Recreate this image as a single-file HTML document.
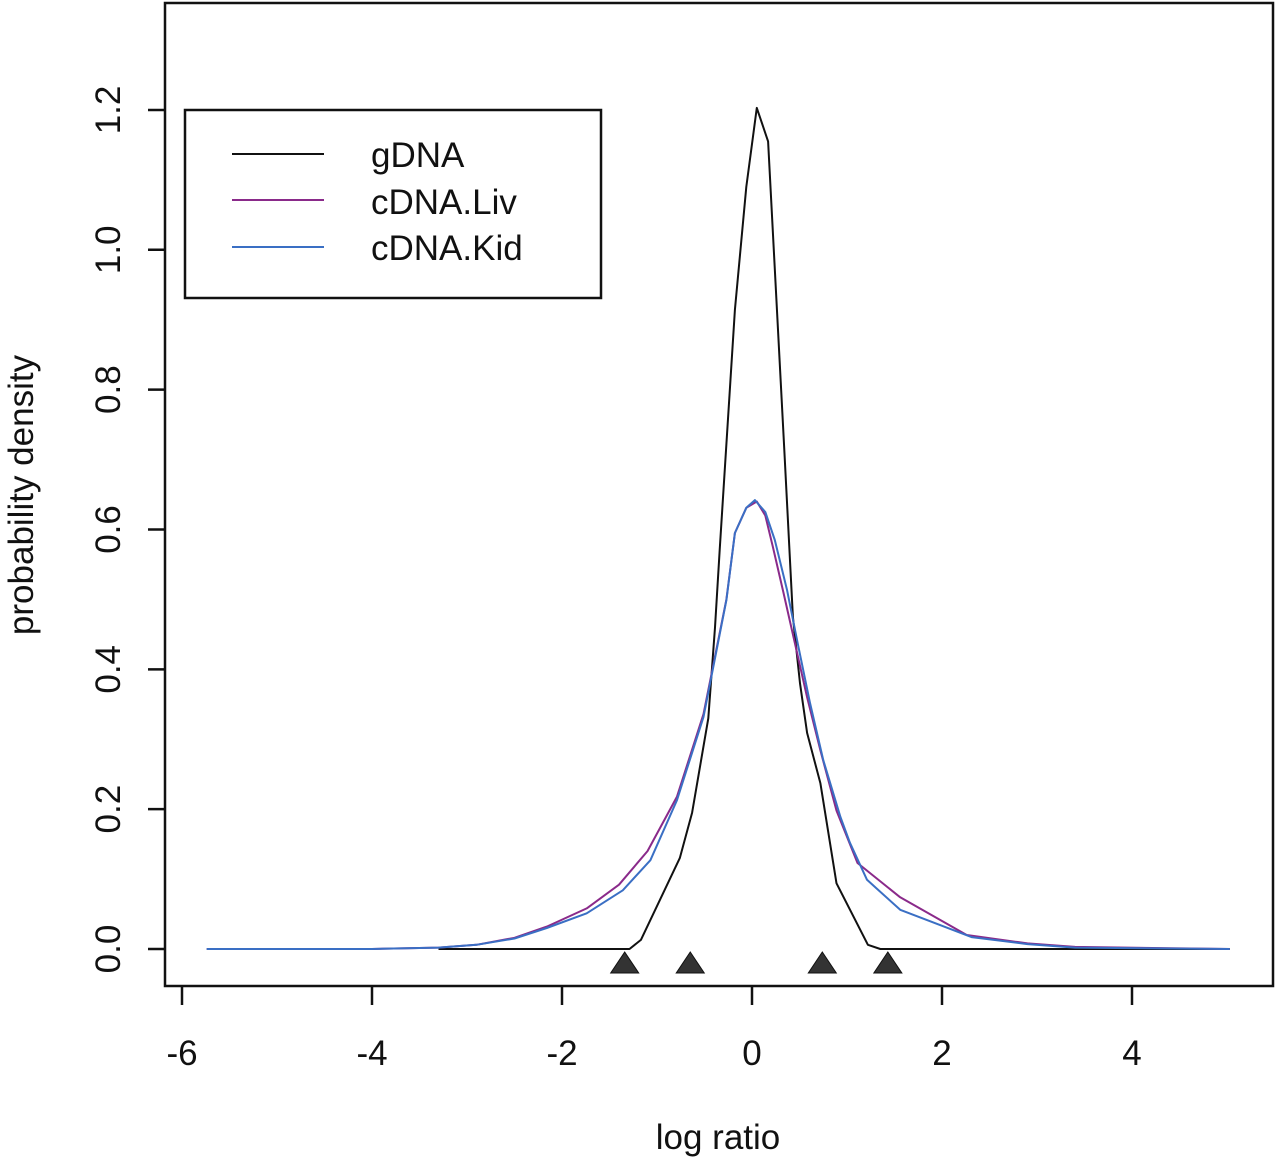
<!DOCTYPE html>
<html><head><meta charset="utf-8"><style>
html,body{margin:0;padding:0;background:#fff;}
svg{display:block;}
text{font-family:"Liberation Sans",sans-serif;fill:#111;}
</style></head><body>
<svg id="chart" width="1280" height="1161" viewBox="0 0 1280 1161">
<rect x="165" y="3" width="1108" height="983" fill="none" stroke="#111" stroke-width="2.5"/>
<g id="axes"></g>
<g id="series"></g>
<g id="markers"></g>
<text x="33" y="495" font-size="35" text-anchor="middle" transform="rotate(-90 33 495)">probability density</text>
<text x="718" y="1149" font-size="35" text-anchor="middle">log ratio</text>
<g>
<rect x="185" y="110" width="416" height="188" fill="#fff" stroke="#111" stroke-width="2.5"/>
<line x1="232" y1="154" x2="324" y2="154" stroke="#111" stroke-width="2"/>
<line x1="232" y1="200" x2="324" y2="200" stroke="#8a2a8a" stroke-width="2"/>
<line x1="232" y1="247" x2="324" y2="247" stroke="#3a6fc4" stroke-width="2"/>
<text x="371" y="167" font-size="35">gDNA</text>
<text x="371" y="214" font-size="35">cDNA.Liv</text>
<text x="371" y="260" font-size="35">cDNA.Kid</text>
</g>
</svg>
<script>
const xTicks=[-6,-4,-2,0,2,4];
const yTicks=[0,0.2,0.4,0.6,0.8,1.0,1.2];
const yTickLabels=["0.0","0.2","0.4","0.6","0.8","1.0","1.2"];
const gdnaX=[-3.3,-1.29,-1.17,-0.76,-0.63,-0.46,-0.39,-0.34,-0.18,-0.06,0.05,0.17,0.34,0.43,0.505,0.58,0.72,0.89,1.22,1.35,5.03];
const gdnaY=[0,0,0.013,0.13,0.195,0.33,0.46,0.571,0.914,1.09,1.203,1.155,0.714,0.475,0.38,0.309,0.237,0.094,0.006,0,0];
const kidX=[-5.74,-4,-3.3,-2.9,-2.5,-2.16,-1.74,-1.36,-1.07,-0.79,-0.51,-0.27,-0.18,-0.06,0.03,0.14,0.24,0.37,0.48,0.61,0.75,0.93,1.03,1.21,1.56,2.31,2.9,3.4,5.03];
const kidY=[0,0,0.002,0.006,0.015,0.03,0.051,0.084,0.127,0.213,0.332,0.499,0.595,0.631,0.642,0.625,0.585,0.513,0.438,0.352,0.27,0.189,0.152,0.099,0.056,0.017,0.007,0.002,0];
const livX=[-5.74,-4,-3.3,-2.9,-2.5,-2.16,-1.74,-1.4,-1.1,-0.79,-0.51,-0.27,-0.18,-0.06,0.05,0.14,0.22,0.33,0.45,0.58,0.72,0.89,1.11,1.56,2.26,2.9,3.4,5.03];
const livY=[0,0,0.002,0.006,0.016,0.032,0.058,0.092,0.14,0.218,0.336,0.5,0.595,0.631,0.64,0.62,0.575,0.51,0.438,0.36,0.284,0.198,0.123,0.074,0.02,0.008,0.003,0];
const markerX=[-1.34,-0.65,0.74,1.43];

const X=v=>752+v*95;
const Y=v=>949-v*699.2;
const NS="http://www.w3.org/2000/svg";
function mk(tag,attrs,parent){const e=document.createElementNS(NS,tag);for(const k in attrs)e.setAttribute(k,attrs[k]);parent.appendChild(e);return e;}
const axes=document.getElementById('axes');
xTicks.forEach(t=>{
  const l=mk('line',{x1:X(t),x2:X(t),y1:986,y2:1005,stroke:'#111','stroke-width':2.5},axes);
  
  
  const tx=mk('text',{x:X(t),y:1065,'font-size':35,'text-anchor':'middle'},axes);
  tx.textContent=String(t);
  
  
});
yTicks.forEach((t,i)=>{
  const l=mk('line',{x1:148,x2:165,y1:Y(t),y2:Y(t),stroke:'#111','stroke-width':2.5},axes);
  
  
  const tx=mk('text',{x:120,y:Y(t),'font-size':35,'text-anchor':'middle',transform:`rotate(-90 120 ${Y(t)})`},axes);
  tx.textContent=yTickLabels[i];
  
  
});
const series=document.getElementById('series');
function line(xs,ys,color,name){
  const d=xs.map((x,i)=>(i?'L':'M')+X(x).toFixed(1)+','+Y(ys[i]).toFixed(1)).join(' ');
  const p=mk('path',{d:d,fill:'none',stroke:color,'stroke-width':2,'stroke-linejoin':'round'},series);
  
  
}
line(gdnaX,gdnaY,'#111','gdna-line');
line(livX,livY,'#8a2a8a','cdna-liv-line');
line(kidX,kidY,'#3a6fc4','cdna-kid-line');
const markers=document.getElementById('markers');
markerX.forEach(m=>{
  const cx=X(m);
  const t=mk('polygon',{points:`${cx},952 ${cx-14},973 ${cx+14},973`,fill:'#333',stroke:'#111','stroke-width':1},markers);
  
  
});
</script>
</body></html>
